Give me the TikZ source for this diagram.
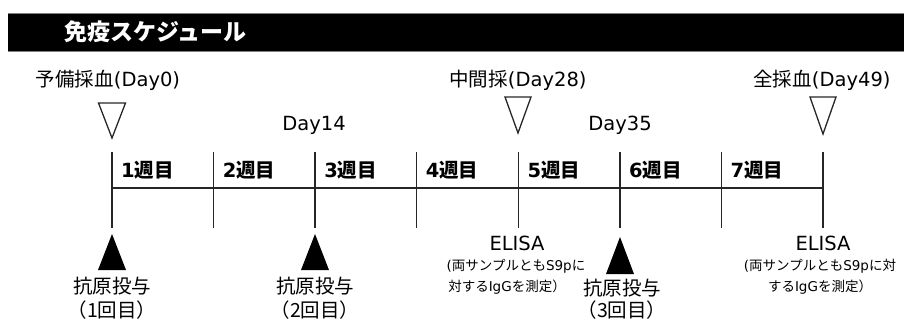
\documentclass[tikz,border=0pt]{standalone}
\usepackage{fontspec}
\setmainfont{DejaVu Sans}
\newfontfamily\jp{Noto Sans CJK JP}
\newcommand\J[1]{{\jp #1}}
\begin{document}
\begin{tikzpicture}[x=1pt,y=-1pt,
  lbl/.style={inner sep=0pt,font=\fontsize{19.5}{22}\selectfont},
  wk/.style={inner sep=0pt,anchor=west,font=\bfseries\fontsize{19.5}{22}\selectfont},
  small/.style={inner sep=0pt,font=\fontsize{13.5}{16}\selectfont},
  tl/.style={line width=1.4pt,draw=black!85},
  opentri/.style={line width=1.3pt,draw=black!85,line join=miter},
  filltri/.style={fill=black}]
\useasboundingbox (0,0) rectangle (904,320);
% title bar
\fill[black] (8,13) rectangle (904,51);
\draw[gray,line width=0.8pt] (8,13) -- (904,13);
\draw[gray,line width=0.8pt] (8,51) -- (904,51);
\node[anchor=west,inner sep=0pt,text=white,font=\jp\bfseries\fontsize{23}{26}\selectfont] (title) at (64,32) {免疫スケジュール};
% tick coordinates
\foreach \i/\x in {0/112,1/213.6,2/315.1,3/416.7,4/518.3,5/619.9,6/721.4,7/823} {
  \coordinate (t\i) at (\x,152);
  \coordinate (b\i) at (\x,228);
  \coordinate (h\i) at (\x,188);
  \draw[tl] (t\i) -- (b\i);
}
\draw[tl] (h0) -- (h7);
% week labels
\foreach \i/\x in {1/112,2/213.6,3/315.1,4/416.7,5/518.3,6/619.9,7/721.4} {
  \node[wk] (w\i) at (\x+9,170) {\i{\jp 週目}};
}
% top labels
\node[lbl] (pre) at (108,80) {\J{予備採血}(Day0)};
\node[lbl] (mid) at (518,80) {\J{中間採}(Day28)};
\node[lbl] (full) at (822,80) {\J{全採血}(Day49)};
\node[lbl] (d14) at (314,125) {Day14};
\node[lbl] (d35) at (620,125) {Day35};
% open triangles
\draw[opentri] (98.5,103) -- (125.5,103) -- (112,138) -- cycle;
\draw[opentri] (505,97) -- (531,97) -- (518,133) -- cycle;
\draw[opentri] (810,97) -- (836,97) -- (823,134) -- cycle;
% filled triangles
\fill[filltri] (98,270) -- (126,270) -- (112,234) -- cycle;
\fill[filltri] (301,270) -- (329,270) -- (315,234) -- cycle;
\fill[filltri] (606,274) -- (634,274) -- (620,237) -- cycle;
% antigen labels
\node[lbl] (ag1) at (112,286) {\J{抗原投与}};
\node[lbl] (ag1n) at (112,310) {\J{（1回目）}};
\node[lbl] (ag2) at (315,286) {\J{抗原投与}};
\node[lbl] (ag2n) at (315,310) {\J{（2回目）}};
\node[lbl] (ag3) at (622,288) {\J{抗原投与}};
\node[lbl] (ag3n) at (622,310) {\J{（3回目）}};
% ELISA
\node[lbl] (el1) at (517,243) {ELISA};
\node[small] (el1a) at (516,266) {(\J{両サンプルとも}S9p\J{に}};
\node[small] (el1b) at (507,287) {\J{対する}IgG\J{を測定）}};
\node[lbl] (el2) at (823,243) {ELISA};
\node[small] (el2a) at (820,266) {(\J{両サンプルとも}S9p\J{に対}};
\node[small] (el2b) at (820,287) {\J{する}IgG\J{を測定）}};
\end{tikzpicture}
\end{document}
